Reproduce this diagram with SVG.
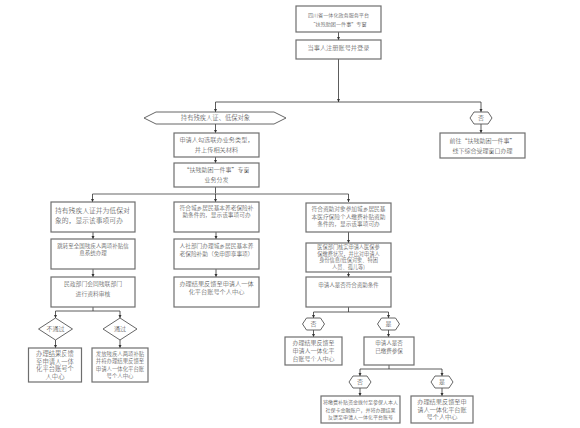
<svg xmlns="http://www.w3.org/2000/svg" width="580" height="428" viewBox="0 0 580 428">
<defs>
<marker id="ah" viewBox="0 0 6 6" refX="6" refY="3" markerWidth="4" markerHeight="4" orient="auto">
<path d="M0,0 L6,3 L0,6 z" fill="#333"/>
</marker>
<style>
.b{fill:#fff;stroke:#6e6e6e;stroke-width:1.2}
.s{fill:#fff;stroke:#555;stroke-width:0.9}
.t{font-family:"Noto Sans CJK SC","Noto Sans CJK TC",sans-serif;font-weight:300;fill:#3a3a3a;text-anchor:middle}
.l{text-anchor:start}
.c{fill:none;stroke:#333;stroke-width:0.8}
.a{marker-end:url(#ah)}
.g{fill:none;stroke:#999;stroke-width:1.6}
</style>
</defs>
<rect width="580" height="428" fill="#fff"/>

<g id="connectors">
<path class="c a" d="M338.5,32 V40"/>
<path class="c a" d="M338.5,59 V102"/>
<path class="c" d="M215.5,102 H481"/>
<path class="c a" d="M215.5,102 V112"/>
<path class="c a" d="M481,102 V112"/>
<path class="c a" d="M481,124 V133"/>
<path class="c a" d="M215.5,124 V133"/>
<path class="c a" d="M215.5,157 V163"/>
<path class="c" d="M215.5,187 V194"/>
<path class="g" d="M92.5,194 H348.5"/>
<path class="c a" d="M92.5,194 V202"/>
<path class="c a" d="M215.5,194 V202"/>
<path class="c a" d="M348.5,194 V202"/>
<path class="c a" d="M93,232 V239"/>
<path class="c a" d="M93,269 V277"/>
<path class="c a" d="M216,232 V239"/>
<path class="c a" d="M216,269 V277"/>
<path class="c a" d="M348.5,232 V243"/>
<path class="c a" d="M348.5,272 V277"/>
<path class="c" d="M93,307 V311 M55.5,311 H120"/>
<path class="c a" d="M55.5,311 V318"/>
<path class="c a" d="M120,311 V318"/>
<path class="c a" d="M55.5,340 V348"/>
<path class="c a" d="M120,340 V348"/>
<path class="c" d="M348.5,307 V312 M313.5,312 H388.5"/>
<path class="c a" d="M313.5,312 V318"/>
<path class="c a" d="M388.5,312 V318"/>
<path class="c a" d="M313.5,330 V337"/>
<path class="c a" d="M388.5,330 V337"/>
<path class="c" d="M389,365 V369 M360,369 H442"/>
<path class="c a" d="M360,369 V376"/>
<path class="c a" d="M442,369 V376"/>
<path class="c a" d="M360,388 V396"/>
<path class="c a" d="M442,388 V396"/>
</g>

<g id="n_platform">
<rect class="b" x="296" y="6" width="85" height="26"/>
<text class="t" x="338.5" y="16.5" font-size="5.1">四川省一体化政务服务平台</text>
<text class="t" x="338.5" y="26" font-size="5.1">“扶残助困一件事”专窗</text>
</g>
<g id="n_login">
<rect class="b" x="296" y="40" width="85" height="19"/>
<text class="t" x="338.5" y="49.5" font-size="6.2">当事人注册账号并登录</text>
</g>
<g id="n_cond">
<polygon class="s" points="144,118 156,112 274,112 286,118 274,124 156,124"/>
<text class="t" x="215.5" y="120.3" font-size="6.3">持有残疾人证、低保对象</text>
</g>
<g id="n_no_top">
<polygon class="s" points="470,118 474,112 488,112 492,118 488,124 474,124"/>
<text class="t" x="481" y="120.3" font-size="6">否</text>
</g>
<g id="n_offline">
<rect class="b" x="440" y="133" width="85" height="25"/>
<text class="t" x="482.5" y="142.5" font-size="6">前往“扶残助困一件事”</text>
<text class="t" x="482.5" y="152.5" font-size="6">线下综合受理窗口办理</text>
</g>
<g id="n_select">
<rect class="b" x="174" y="133" width="85" height="24"/>
<text class="t" x="216.5" y="141.5" font-size="6.2">申请人勾选联办业务类型，</text>
<text class="t" x="216.5" y="151.5" font-size="6.2">并上传相关材料</text>
</g>
<g id="n_dispatch">
<rect class="b" x="174" y="163" width="85" height="24"/>
<text class="t" x="216.5" y="172" font-size="6">“扶残助困一件事”专窗</text>
<text class="t" x="216.5" y="182" font-size="6">业务分发</text>
</g>

<g id="n_l1">
<rect class="b" x="51" y="202" width="84" height="30"/>
<text class="t l" x="55" y="213" font-size="6.8">持有残疾人证并为低保对</text>
<text class="t l" x="55" y="222.5" font-size="6.8">象的，显示该事项可办</text>
</g>
<g id="n_l2">
<rect class="b" x="51" y="239" width="84" height="30"/>
<text class="t" x="93" y="247.5" font-size="5.5">跳转至全国残疾人两项补贴信</text>
<text class="t" x="93" y="254.6" font-size="5.5">息系统办理</text>
</g>
<g id="n_l3">
<rect class="b" x="51" y="277" width="84" height="30"/>
<text class="t" x="93" y="286" font-size="5.8">民政部门会同残联部门</text>
<text class="t" x="93" y="296" font-size="5.8">进行资料审核</text>
</g>
<g id="n_fail">
<polygon class="s" points="38.5,329 55.5,318 72.5,329 55.5,340"/>
<text class="t" x="55.5" y="331" font-size="6">不通过</text>
</g>
<g id="n_pass">
<polygon class="s" points="103,329 120,318 137,329 120,340"/>
<text class="t" x="120" y="331" font-size="6">通过</text>
</g>
<g id="n_l_fail_res">
<rect class="b" x="28.5" y="348" width="53" height="34"/>
<text class="t" x="55" y="356" font-size="6.3">办理结果反馈</text>
<text class="t" x="55" y="363.5" font-size="6.3">至申请人一体</text>
<text class="t" x="55" y="371" font-size="6.3">化平台账号个</text>
<text class="t" x="55" y="378.5" font-size="6.3">人中心</text>
</g>
<g id="n_l_pass_res">
<rect class="b" x="92" y="348" width="56" height="34"/>
<text class="t" x="120" y="355.5" font-size="5.4">发放残疾人两项补贴</text>
<text class="t" x="120" y="363" font-size="5.4">并将办理结果反馈至</text>
<text class="t" x="120" y="370.5" font-size="5.4">申请人一体化平台账</text>
<text class="t" x="120" y="378" font-size="5.4">号个人中心</text>
</g>

<g id="n_m1">
<rect class="b" x="174" y="202" width="85" height="30"/>
<text class="t" x="216.5" y="209.5" font-size="5.7">符合城乡居民基本养老保险补</text>
<text class="t" x="216.5" y="217" font-size="5.7">助条件的，显示该事项可办</text>
</g>
<g id="n_m2">
<rect class="b" x="174" y="239" width="85" height="30"/>
<text class="t" x="216.5" y="248" font-size="5.7">人社部门办理城乡居民基本养</text>
<text class="t" x="216.5" y="255.5" font-size="5.7">老保险补助（免申即享事项）</text>
</g>
<g id="n_m3">
<rect class="b" x="174" y="277" width="85" height="30"/>
<text class="t" x="216.5" y="286" font-size="6.2">办理结果反馈至申请人一体</text>
<text class="t" x="216.5" y="293.5" font-size="6.2">化平台账号个人中心</text>
</g>

<g id="n_r1">
<rect class="b" x="306" y="203" width="85" height="29"/>
<text class="t" x="348.5" y="211" font-size="5.7">符合资助对象参加城乡居民基</text>
<text class="t" x="348.5" y="218.5" font-size="5.7">本医疗保险个人缴费补贴资助</text>
<text class="t" x="348.5" y="226" font-size="5.7">条件的，显示该事项可办</text>
</g>
<g id="n_r2">
<rect class="b" x="306" y="243" width="85" height="29"/>
<text class="t" x="348.5" y="249" font-size="5.2">医保部门核实申请人医保参</text>
<text class="t" x="348.5" y="255.5" font-size="5.2">保缴费状况，并比对申请人</text>
<text class="t" x="348.5" y="262" font-size="5.2">身份信息(低保对象、特困</text>
<text class="t" x="348.5" y="268.5" font-size="5.2">人员、孤儿等)</text>
</g>
<g id="n_r3">
<rect class="b" x="306" y="277" width="85" height="30"/>
<text class="t" x="348.5" y="287" font-size="5.5">申请人是否符合资助条件</text>
</g>
<g id="n_r_no">
<polygon class="s" points="302.5,324 306.5,318 320.5,318 324.5,324 320.5,330 306.5,330"/>
<text class="t" x="313.5" y="326.2" font-size="6">否</text>
</g>
<g id="n_r_yes">
<polygon class="s" points="377.5,324 381.5,318 395.5,318 399.5,324 395.5,330 381.5,330"/>
<text class="t" x="388.5" y="326.2" font-size="6">是</text>
</g>
<g id="n_r_no_res">
<rect class="b" x="285" y="337" width="57" height="28"/>
<text class="t" x="313.5" y="345" font-size="6">办理结果反馈至</text>
<text class="t" x="313.5" y="353" font-size="6">申请人一体化平</text>
<text class="t" x="313.5" y="361" font-size="6">台账号个人中心</text>
</g>
<g id="n_r_paid">
<rect class="b" x="364" y="337" width="50" height="28"/>
<text class="t" x="389" y="345" font-size="5.5">申请人是否</text>
<text class="t" x="389" y="353" font-size="5.5">已缴费参保</text>
</g>
<g id="n_p_no">
<polygon class="s" points="349,382 353,376 367,376 371,382 367,388 353,388"/>
<text class="t" x="360" y="384.2" font-size="6">否</text>
</g>
<g id="n_p_yes">
<polygon class="s" points="431,382 435,376 449,376 453,382 449,388 435,388"/>
<text class="t" x="442" y="384.2" font-size="6">是</text>
</g>
<g id="n_p_no_res">
<rect class="b" x="321" y="396" width="79" height="27"/>
<text class="t" x="360.5" y="404" font-size="5">将缴费补贴资金拨付至参保人本人</text>
<text class="t" x="360.5" y="411.5" font-size="5">社保卡金融账户，并将办理结果</text>
<text class="t" x="360.5" y="419" font-size="5">反馈至申请人一体化平台账号</text>
</g>
<g id="n_p_yes_res">
<rect class="b" x="411" y="396" width="62" height="27"/>
<text class="t" x="442" y="404" font-size="6.2">办理结果反馈至申</text>
<text class="t" x="442" y="411.5" font-size="6.2">请人一体化平台账</text>
<text class="t" x="442" y="419" font-size="6.2">号个人中心</text>
</g>
</svg>
